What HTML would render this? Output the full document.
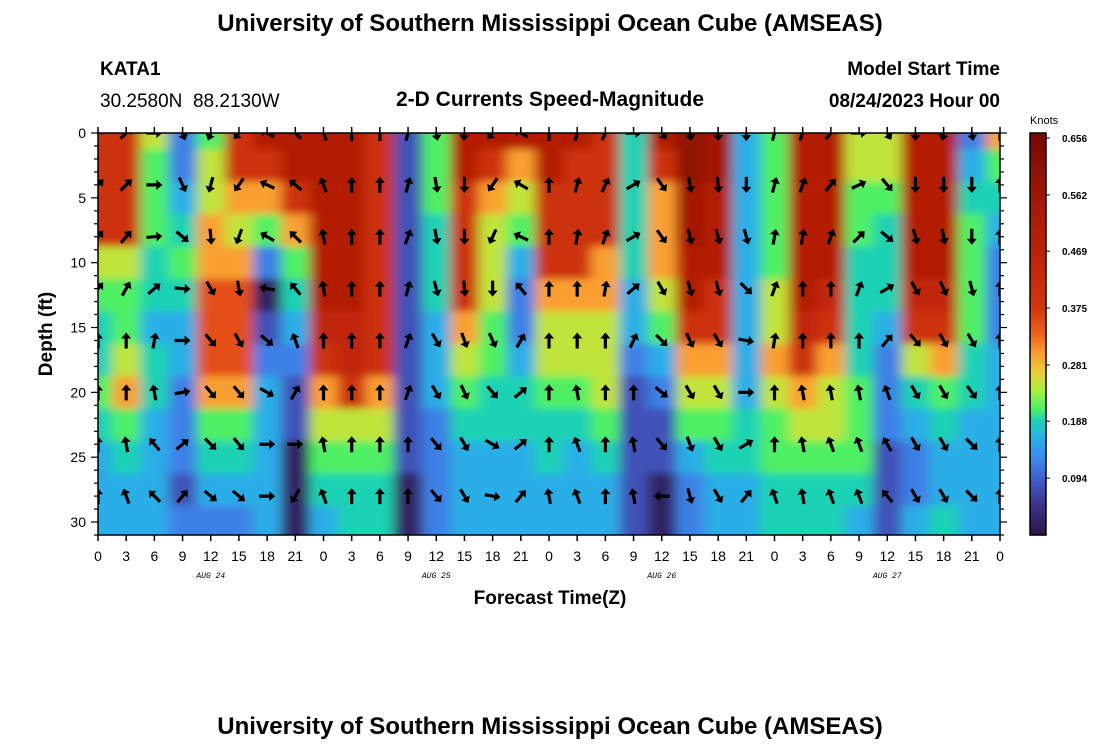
<!DOCTYPE html>
<html><head><meta charset="utf-8">
<style>
body{margin:0;background:#fff;}
svg text{font-family:"Liberation Sans",Arial,sans-serif;}
</style></head>
<body>
<svg id="chart" width="1100" height="750" viewBox="0 0 1100 750" xmlns="http://www.w3.org/2000/svg">
<rect width="1100" height="750" fill="#fff"/>
<text x="550" y="31" text-anchor="middle" font-size="24" font-weight="bold">University of Southern Mississippi Ocean Cube (AMSEAS)</text>
<text x="100" y="75" font-size="19" font-weight="bold">KATA1</text>
<text x="100" y="107" font-size="19">30.2580N&#160; 88.2130W</text>
<text x="550" y="106" text-anchor="middle" font-size="21" font-weight="bold">2-D Currents Speed-Magnitude</text>
<text x="1000" y="75" text-anchor="end" font-size="19" font-weight="bold">Model Start Time</text>
<text x="1000" y="107" text-anchor="end" font-size="19" font-weight="bold">08/24/2023 Hour 00</text>
<text transform="translate(52,334) rotate(-90)" text-anchor="middle" font-size="19" font-weight="bold">Depth (ft)</text>
<text x="550" y="604" text-anchor="middle" font-size="19" font-weight="bold">Forecast Time(Z)</text>
<text x="1030" y="124" font-size="11">Knots</text>
<text x="550" y="734" text-anchor="middle" font-size="24" font-weight="bold">University of Southern Mississippi Ocean Cube (AMSEAS)</text>
<defs>
<clipPath id="plotclip"><rect x="98" y="133" width="902" height="402"/></clipPath>
<filter id="smooth" x="-0.1" y="-0.1" width="1.2" height="1.2"><feGaussianBlur stdDeviation="6 4"/></filter>
</defs>
<g clip-path="url(#plotclip)"><g id="cells" filter="url(#smooth)"></g></g>
<g id="arrows" clip-path="url(#plotclip)"></g>
<g id="axes"></g>
<g id="cbar"></g>
</svg>
<script>
const times = [0,3,6,9,12,15,18,21,24,27,30,33,36,39,42,45,48,51,54,57,60,63,66,69,72,75,78,81,84,87,90,93,96];
const depths = [0,2.5,5,7.5,10,12.5,15,17.5,20,22.5,25,27.5,30];
const speedCols = [
[.40,.40,.40,.40,.25,.21,.19,.19,.21,.19,.16,.16,.16],
[.40,.40,.40,.40,.25,.21,.21,.25,.30,.21,.19,.16,.16],
[.25,.21,.21,.21,.19,.19,.16,.19,.19,.16,.16,.16,.16],
[.12,.12,.16,.19,.21,.19,.16,.16,.12,.12,.12,.08,.12],
[.21,.25,.25,.30,.30,.35,.35,.35,.30,.21,.19,.16,.12],
[.40,.40,.30,.25,.30,.35,.35,.35,.30,.21,.19,.16,.12],
[.50,.40,.30,.21,.12,.02,.08,.12,.16,.16,.16,.16,.16],
[.50,.50,.40,.30,.21,.19,.16,.12,.08,.08,.02,.02,.02],
[.50,.50,.50,.50,.50,.50,.45,.40,.30,.25,.21,.19,.16],
[.50,.50,.50,.50,.50,.50,.45,.45,.40,.25,.21,.19,.19],
[.40,.40,.40,.40,.40,.40,.40,.40,.30,.25,.21,.19,.19],
[.08,.08,.08,.08,.08,.08,.08,.08,.08,.08,.08,.02,.02],
[.21,.21,.21,.19,.19,.19,.16,.16,.16,.12,.12,.12,.12],
[.50,.50,.40,.40,.40,.40,.30,.25,.21,.19,.16,.16,.16],
[.50,.40,.30,.25,.25,.25,.21,.21,.19,.19,.16,.16,.16],
[.50,.30,.25,.21,.16,.12,.12,.16,.19,.19,.16,.16,.16],
[.50,.50,.40,.40,.40,.30,.25,.25,.21,.19,.19,.16,.16],
[.50,.40,.40,.40,.40,.30,.25,.25,.21,.19,.16,.16,.16],
[.40,.40,.40,.40,.30,.30,.25,.25,.25,.21,.19,.16,.16],
[.19,.19,.19,.19,.19,.16,.16,.12,.08,.08,.08,.08,.08],
[.50,.40,.30,.30,.30,.25,.21,.16,.12,.08,.08,.02,.02],
[.60,.60,.55,.55,.50,.50,.40,.30,.25,.21,.16,.12,.12],
[.55,.55,.50,.50,.50,.40,.40,.30,.25,.21,.19,.16,.16],
[.16,.16,.16,.16,.16,.16,.16,.16,.16,.19,.19,.16,.16],
[.21,.21,.21,.21,.21,.25,.25,.30,.25,.21,.21,.19,.19],
[.50,.50,.50,.50,.50,.50,.45,.40,.30,.25,.21,.19,.19],
[.50,.50,.50,.50,.50,.45,.40,.30,.25,.25,.21,.19,.19],
[.25,.25,.21,.21,.19,.19,.19,.19,.21,.21,.21,.19,.16],
[.25,.25,.21,.19,.19,.19,.16,.12,.12,.12,.08,.08,.08],
[.50,.50,.50,.50,.50,.45,.40,.25,.19,.16,.12,.12,.16],
[.50,.50,.50,.50,.50,.45,.40,.30,.21,.19,.16,.16,.19],
[.12,.16,.19,.21,.21,.21,.21,.19,.19,.16,.16,.16,.16],
[.30,.21,.19,.16,.12,.12,.12,.16,.16,.16,.16,.16,.16]
];
const arrowDepths = [0,4,8,12,16,20,24,28];
const arrowDir0 = [45,45,90,160,200,220,300,315,340,0,0,15,170,185,220,300,0,15,25,90,145,170,180,180,15,20,40,90,150,180,190,170,0];
const arrowDir4 = [45,45,90,155,195,215,295,310,340,0,0,15,170,180,215,300,0,15,25,60,145,170,175,180,15,20,40,65,140,180,180,180,0];
const arrowDir8 = [40,40,85,130,175,200,300,315,350,0,0,20,170,180,205,295,0,10,20,60,145,165,165,165,10,10,20,45,130,165,170,180,0];
const arrowDir12 = [40,30,50,95,150,170,280,320,350,0,0,15,165,175,180,320,0,0,10,50,150,165,165,135,20,0,0,20,60,150,155,165,0];
const arrowDir16 = [0,0,10,90,140,150,130,340,0,0,0,20,150,160,155,30,0,0,0,25,135,155,150,100,10,0,0,0,40,140,150,150,0];
const arrowDir20 = [0,0,350,80,140,140,120,30,0,0,0,20,150,155,140,50,0,350,0,0,130,150,150,90,0,350,350,350,340,150,150,145,0];
const arrowDir24 = [0,350,320,50,135,140,90,90,350,0,0,0,140,150,120,50,0,340,0,350,140,160,150,60,0,350,340,340,330,150,150,135,0];
const arrowDir28 = [0,340,315,40,130,130,90,210,340,0,0,0,140,150,100,40,350,340,0,350,270,165,150,40,340,350,340,340,320,150,150,135,0];
const arrowDirs = [arrowDir0,arrowDir4,arrowDir8,arrowDir12,arrowDir16,arrowDir20,arrowDir24,arrowDir28];
const xTickLabels = ["0","3","6","9","12","15","18","21","0","3","6","9","12","15","18","21","0","3","6","9","12","15","18","21","0","3","6","9","12","15","18","21","0"];
const dayLabels = ["AUG 24","AUG 25","AUG 26","AUG 27"];
const dayNoon = [12,36,60,84];
const yTicks = [0,5,10,15,20,25,30];
const cbTicks = [0.656,0.562,0.469,0.375,0.281,0.188,0.094];
const VMAX = 0.656;

const NS="http://www.w3.org/2000/svg";
const X0=98,X1=1000,Y0=133,Y1=535;
const xs = t => X0 + (t/96)*(X1-X0);
const ys = d => Y0 + (d/31)*(Y1-Y0);
const stops=[[0,[45,20,70]],[0.05,[60,50,140]],[0.094,[65,95,205]],[0.13,[58,140,240]],[0.165,[40,180,230]],[0.19,[30,210,180]],[0.21,[80,240,100]],[0.24,[170,240,60]],[0.27,[235,205,55]],[0.30,[250,160,50]],[0.33,[240,100,30]],[0.375,[210,55,15]],[0.47,[188,34,6]],[0.56,[160,24,6]],[0.656,[120,10,5]]];
function cmap(v){v=Math.max(0,Math.min(VMAX,v));for(let i=1;i<stops.length;i++){if(v<=stops[i][0]){const a=stops[i-1],b=stops[i];const k=(v-a[0])/(b[0]-a[0]);const c=a[1].map((x,j)=>Math.round(x+(b[1][j]-x)*k));return `rgb(${c})`;}}return 'rgb(120,10,5)';}
function mk(tag,attrs,parent){const e=document.createElementNS(NS,tag);for(const k in attrs)e.setAttribute(k,attrs[k]);parent.appendChild(e);return e;}

const cells=document.getElementById('cells');
const nT=times.length, nD=depths.length;
times.forEach((t,i)=>{depths.forEach((d,j)=>{
  const xa=xs(i===0?t-6:t-1.5), xb=xs(i===nT-1?t+6:t+1.5);
  const ya=ys(j===0?d-4:d-1.25), yb=ys(j===nD-1?d+5:d+1.25);
  const r=mk('rect',{x:xa,y:ya,width:xb-xa+0.6,height:yb-ya+0.6,fill:cmap(speedCols[i][j])},cells);
  
  
});});

const arrows=document.getElementById('arrows');
arrowDepths.forEach((d,r)=>{times.forEach((t,i)=>{
  const g=mk('g',{transform:`translate(${xs(t)},${ys(d)}) rotate(${arrowDirs[r][i]})`},arrows);
  
  
  mk('path',{d:'M-1.6,8 L1.6,8 L1.6,-2 L5,-2 L0,-8 L-5,-2 L-1.6,-2 Z',fill:'#000'},g);
});});

const axes=document.getElementById('axes');
mk('rect',{x:X0,y:Y0,width:X1-X0,height:Y1-Y0,fill:'none',stroke:'#000','stroke-width':1.5},axes);
times.forEach((t,i)=>{
  const x=xs(t);
  mk('line',{x1:x,y1:Y0,x2:x,y2:Y0-6,stroke:'#000','stroke-width':1.5},axes);
  mk('line',{x1:x,y1:Y1,x2:x,y2:Y1+6,stroke:'#000','stroke-width':1.5},axes);
  const tx=mk('text',{x:x,y:561,'text-anchor':'middle','font-size':14},axes);
  tx.textContent=xTickLabels[i];
  
  
});
dayLabels.forEach((lab,i)=>{
  const tx=mk('text',{x:xs(dayNoon[i]),y:578,'text-anchor':'middle','font-size':8,'font-style':'italic',style:'font-family:"Liberation Mono",monospace'},axes);
  tx.textContent=lab;
  
  
});
for(let d=0;d<=31;d++){
  const y=ys(d), L=(d%5===0)?7:4;
  mk('line',{x1:X0,y1:y,x2:X0-L,y2:y,stroke:'#000','stroke-width':1.2},axes);
  mk('line',{x1:X1,y1:y,x2:X1+L,y2:y,stroke:'#000','stroke-width':1.2},axes);
}
yTicks.forEach(d=>{
  const tx=mk('text',{x:86,y:ys(d)+5,'text-anchor':'end','font-size':14},axes);
  tx.textContent=String(d);
  
  
});

const cb=document.getElementById('cbar');
const CX=1030,CW=16,CT=133,CB=535;
const cy = v => CB - (v/VMAX)*(CB-138);
mk('rect',{x:CX,y:CT,width:CW,height:6,fill:cmap(VMAX)},cb);
for(let k=0;k<160;k++){
  const v0=k*VMAX/160, v1=(k+1)*VMAX/160;
  const ya=Math.max(CT,cy(v1)), yb=cy(v0);
  mk('rect',{x:CX,y:ya,width:CW,height:yb-ya+0.6,fill:cmap((v0+v1)/2)},cb);
}
mk('rect',{x:CX,y:CT,width:CW,height:CB-CT,fill:'none',stroke:'#000','stroke-width':1.5},cb);
cbTicks.forEach(v=>{
  const y=cy(v);
  mk('line',{x1:CX+CW,y1:y,x2:CX+CW+4,y2:y,stroke:'#000'},cb);
  const tx=mk('text',{x:1062,y:y+4,'font-size':10,'font-weight':'bold'},cb);
  tx.textContent=v.toFixed(3);
  
  
});
</script>
</body></html>
